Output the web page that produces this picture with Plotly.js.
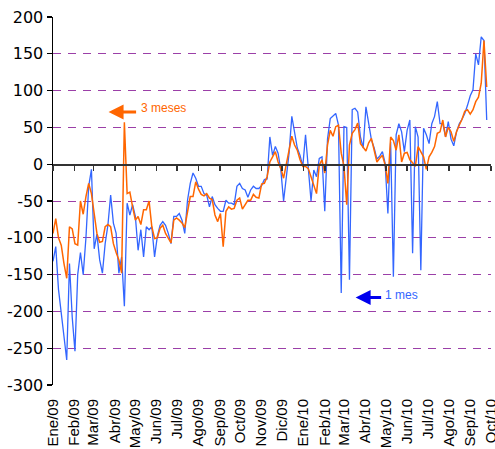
<!DOCTYPE html>
<html>
<head>
<meta charset="utf-8">
<script src="https://cdn.plot.ly/plotly-3.0.1.min.js"></script>
<style>html,body{margin:0;padding:0;background:#fff;}#chart{width:495px;height:449px;}</style>
</head>
<body>
<div id="chart"></div>
<script>
// Sampling of the daily series (one reading every 4 days from 1 Jan 2009)
const startDate = '2009-01-01';
const stepDays = 4;

// 1-month series (blue)
const unMes = [
-132,-112,-170,-205,-234,-266,-135,-208,-254,-150,
-120,-150,-100,-30,-7,-115,-95,-130,-148,-108,
-83,-42,-80,-94,-148,-126,-193,-53,-69,-55,
-71,-117,-89,-126,-85,-89,-85,-126,-98,-83,
-78,-83,-94,-108,-71,-71,-67,-76,-94,-49,
-26,-12,-19,-30,-30,-40,-42,-58,-44,-55,
-60,-64,-64,-49,-53,-53,-55,-30,-26,-33,
-35,-45,-35,-30,-33,-33,-29,-21,-20,37,
12,24,15,-8,-50,-17,15,65,44,22,
12,-3,40,-5,-50,-8,-17,8,10,-64,
34,62,65,69,53,-175,51,50,-157,74,
76,71,37,22,78,55,33,22,7,11,
17,1,-67,30,-153,40,55,44,17,46,
60,-121,51,37,-144,49,40,28,55,65,
85,55,55,37,58,34,25,44,55,61,
69,80,93,101,150,135,173,168,60
];

// 3-month series (orange)
const tresMeses = [
-94,-74,-100,-110,-135,-155,-85,-88,-108,-110,
-50,-68,-44,-26,-40,-68,-94,-106,-105,-85,
-82,-85,-108,-120,-130,-148,57,-40,-38,-58,
-76,-71,-82,-62,-62,-50,-85,-101,-100,-87,
-83,-94,-101,-107,-76,-73,-76,-80,-86,-64,
-44,-44,-24,-34,-41,-43,-40,-46,-48,-69,
-78,-67,-112,-64,-58,-61,-60,-49,-46,-61,
-55,-49,-49,-41,-45,-46,-27,-26,-17,3,
10,17,3,-6,-19,1,19,38,26,19,
6,-3,-3,-6,-17,-30,-40,-1,6,-12,
26,46,38,51,53,15,-3,-55,26,42,
47,56,28,23,18,29,35,19,3,8,
12,-1,-26,37,32,19,40,3,15,16,
6,2,-3,24,16,10,-7,10,16,24,
42,44,60,37,50,44,31,44,53,61,
72,74,68,74,85,91,110,168,105
];

// Axis ticks
const monthTicks = ['2009-01-01','2009-02-01','2009-03-01','2009-04-01','2009-05-01','2009-06-01','2009-07-01',
  '2009-08-01','2009-09-01','2009-10-01','2009-11-01','2009-12-01','2010-01-01','2010-02-01','2010-03-01',
  '2010-04-01','2010-05-01','2010-06-01','2010-07-01','2010-08-01','2010-09-01','2010-10-01'];
const monthLabels = ['Ene/09','Feb/09','Mar/09','Abr/09','May/09','Jun/09','Jul/09','Ago/09','Sep/09','Oct/09',
  'Nov/09','Dic/09','Ene/10','Feb/10','Mar/10','Abr/10','May/10','Jun/10','Jul/10','Ago/10','Sep/10','Oct/10'];
const yTicks = [-300,-250,-200,-150,-100,-50,0,50,100,150,200];
const yTickText = ['-300','-250','-200','-150','-100','-50','0','50','100','150','200'];

// Build the date axis for the samples
const dates = [];
{
  const t0 = Date.parse(startDate + 'T00:00:00Z');
  for (let i = 0; i < unMes.length; i++) {
    dates.push(new Date(t0 + i * stepDays * 86400000).toISOString().slice(0, 10));
  }
}

const xRange = ['2009-01-01', '2010-10-01 06:00'];

const traces = [
  {x: dates, y: unMes, type: 'scatter', mode: 'lines', name: '1 mes',
   line: {color: '#3366FF', width: 1.3}, hoverinfo: 'skip'},
  {x: dates, y: tresMeses, type: 'scatter', mode: 'lines', name: '3 meses',
   line: {color: '#FF6600', width: 1.5}, hoverinfo: 'skip'},
  {x: [dates[0]], y: [null], xaxis: 'x2', yaxis: 'y', type: 'scatter', mode: 'lines',
   showlegend: false, hoverinfo: 'skip'}
];

const layout = {
  width: 495, height: 449,
  margin: {l: 53, r: 4, t: 17, b: 64, pad: 0},
  paper_bgcolor: '#fff', plot_bgcolor: '#fff',
  showlegend: false,
  font: {family: 'Liberation Sans, Arial, sans-serif', color: '#000'},
  xaxis: {
    type: 'date', range: xRange,
    tickmode: 'array', tickvals: monthTicks, ticktext: monthLabels,
    tickangle: -90, ticks: '', showgrid: false, showline: false, zeroline: false,
    tickfont: {family: 'Liberation Sans, Arial, sans-serif', size: 15, color: '#000'},
    ticklabelstandoff: 10, ticklabeloverflow: 'allow'
  },
  xaxis2: {
    type: 'date', range: xRange, overlaying: 'x', anchor: 'free', position: 0.6,
    tickmode: 'array', tickvals: monthTicks, showticklabels: false,
    ticks: 'outside', ticklen: 5, tickwidth: 1.5, tickcolor: '#333',
    showline: true, linecolor: '#333', linewidth: 1.5,
    showgrid: false, zeroline: false
  },
  yaxis: {
    range: [-300, 200], tickmode: 'array', tickvals: yTicks, ticktext: yTickText,
    ticks: 'outside', ticklen: 5, tickwidth: 1.2, tickcolor: '#000',
    showline: true, linecolor: '#000', linewidth: 1.5,
    showgrid: true, gridcolor: '#9B3FA8', gridwidth: 1, griddash: '8px,7px',
    zeroline: false,
    tickfont: {family: 'DejaVu Sans, sans-serif', size: 16, color: '#000'}
  },
  annotations: [
    {x: '2009-03-23', y: 71, xref: 'x', yref: 'y', text: '', showarrow: true,
     ax: 29, ay: 0, arrowcolor: '#FF6600', arrowwidth: 3, arrowhead: 2, arrowsize: 1, standoff: 0},
    {x: '2009-05-07', y: 77, xref: 'x', yref: 'y', text: '3 meses', showarrow: false,
     xanchor: 'left', yanchor: 'middle', font: {family: 'Liberation Sans, Arial, sans-serif', size: 12, color: '#FF6600'}},
    {x: '2010-03-18', y: -181, xref: 'x', yref: 'y', text: '', showarrow: true,
     ax: 27, ay: 0, arrowcolor: '#0000EE', arrowwidth: 3, arrowhead: 2, arrowsize: 1, standoff: 0},
    {x: '2010-04-27', y: -178, xref: 'x', yref: 'y', text: '1 mes', showarrow: false,
     xanchor: 'left', yanchor: 'middle', font: {family: 'Liberation Sans, Arial, sans-serif', size: 12, color: '#3366FF'}}
  ]
};

Plotly.newPlot('chart', traces, layout, {staticPlot: true, displayModeBar: false});
</script>
</body>
</html>
